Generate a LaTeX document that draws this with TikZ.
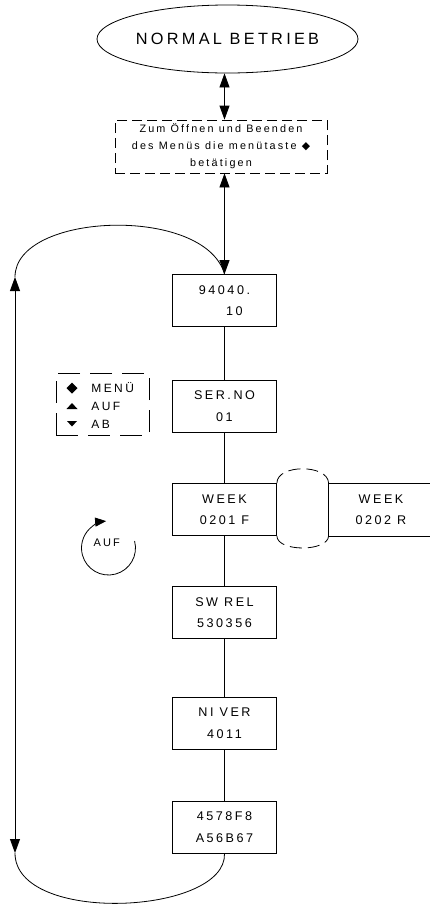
\documentclass[tikz,border=0pt]{standalone}
\usepackage{fontspec}
\setmainfont{Liberation Sans}[LetterSpace=20]
\newfontfamily\symfont{DejaVu Sans}
\usetikzlibrary{shapes.geometric,arrows.meta}
\begin{document}
\begin{tikzpicture}[x=1pt,y=-1pt,line width=0.8pt,
  >={Triangle[length=14pt,width=10pt]},
  box/.style={draw,minimum width=104pt,minimum height=52pt,inner sep=0pt,align=center,font=\fontsize{12.6}{21.5}\selectfont},
  legtext/.style={anchor=base west,inner sep=0pt,font=\fontsize{12}{14}\selectfont},
  dashbox/.style={draw,dash pattern=on 10pt off 5pt}]
\useasboundingbox (0,0) rectangle (430,906);
\node[ellipse,draw,minimum width=261pt,minimum height=68pt,inner sep=0pt,font=\fontsize{16.3}{20}\selectfont] (ell) at (227.5,39) {NORMAL BETRIEB};
\node[dashbox,minimum width=212pt,minimum height=53pt,inner sep=0pt,align=center,font=\fontsize{10.8}{17}\selectfont] (dbox) at (221,146.5) {Zum Öffnen und Beenden\\des Menüs die menütaste {\symfont ◆}\\betätigen};
\node[box] (b1) at (224.5,300.5) {94040.\\\hspace*{20pt}10};
\node[box] (b2) at (224.5,406) {SER.NO\\01};
\node[box] (b3) at (224.5,509.5) {WEEK\\0201 F};
\node[box,draw=none] (b4) at (381,509.5) {WEEK\\0202 R};
\node[box] (b5) at (224.5,612.5) {SW REL\\530356};
\node[box] (b6) at (224.5,723) {NI VER\\4011};
\node[box] (b7) at (224.5,827) {4578F8\\A56B67};
\coordinate (edge) at (430,0);
\draw (b4.north west -| edge) -- (b4.north west) -- (b4.south west) -- (b4.south west -| edge);
\draw[dash pattern=on 12pt off 6pt] (b3.north east) .. controls (277,464) and (328,464) .. (b4.north west);
\draw[dash pattern=on 12pt off 6pt] (b3.south east) .. controls (277,552) and (328,552) .. (b4.south west);
\draw[<->] (ell.south -| b1.north) -- (dbox.north -| b1.north);
\draw[<->] (dbox.south -| b1.north) -- (b1.north);
\draw (b1) -- (b2);
\draw (b2) -- (b3);
\draw (b3) -- (b5);
\draw (b5) -- (b6);
\draw (b6) -- (b7);
\coordinate (lt) at (15,277);
\coordinate (lb) at (15,853);
\draw[<->] (lt) -- (lb);
\draw (lt) .. controls (15,212) and (205,205) .. (b1.north);
\draw (lb) .. controls (15,925) and (227,915) .. (b7.south);
% legend
\node[draw,dash pattern=on 22pt off 10pt,minimum width=93pt,minimum height=62pt,inner sep=0pt] (leg) at (102.5,404) {};
\fill (72,382.5) -- (77.5,388) -- (72,393.5) -- (66.5,388) -- cycle;
\fill (66.5,409) -- (77.5,409) -- (72,403) -- cycle;
\fill (67,421) -- (77,421) -- (72,426.5) -- cycle;
\node[legtext] (lm) at (91,392.5) {MENÜ};
\node[legtext] (la) at (91,410.5) {AUF};
\node[legtext] (lab) at (91,428.5) {AB};
% rotation
\node[inner sep=0pt,font=\fontsize{11}{13}\selectfont] (auf) at (106.7,543) {AUF};
\draw[-{Triangle[length=11pt,width=9pt]}] ([shift={(-15:27)}]108.5,548) arc[start angle=-15,end angle=265,radius=27];
\end{tikzpicture}
\end{document}
